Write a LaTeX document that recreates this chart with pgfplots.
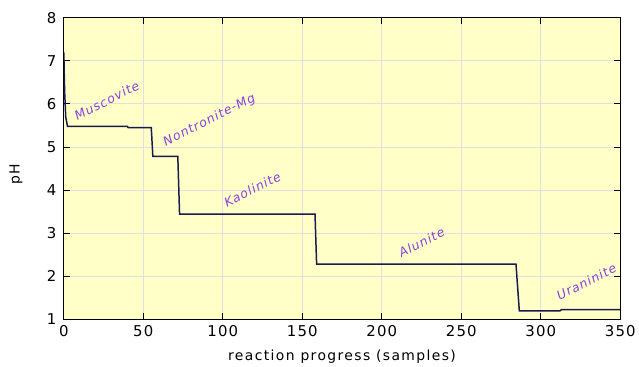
\documentclass[border=0pt]{standalone}
\usepackage{fontspec}
\setmainfont{DejaVu Sans}
\usepackage{pgfplots}
\pgfplotsset{compat=1.18}
\definecolor{bgy}{HTML}{FFFFC8}
\definecolor{lab}{HTML}{8A3FE0}
\definecolor{ln}{HTML}{1A1A50}
\begin{document}
\begin{tikzpicture}
\begin{axis}[
  scale only axis, width=558bp, height=302bp,
  xmin=0, xmax=350, ymin=1, ymax=8,
  xtick={0,50,...,350}, ytick={1,...,8},
  axis background/.style={fill=bgy},
  grid=major, major grid style={color=black!12, line width=1pt},
  tick align=inside, tick style={black, line width=1pt}, major tick length=6bp,
  axis line style={black, line width=1pt},
  tick label style={font=\fontsize{15}{17}\selectfont\addfontfeature{LetterSpace=8}},
  xticklabel style={yshift=-2.5bp},
  yticklabel style={xshift=-4bp},
  /pgf/number format/assume math mode=true,
  xlabel={reaction progress (samples)}, ylabel={pH},
  label style={font=\fontsize{14}{16}\selectfont\addfontfeature{LetterSpace=10}},
  xlabel style={at={(axis description cs:0.5,0)}, anchor=base, yshift=-41bp},
  ylabel style={at={(axis description cs:0,0.48)}, anchor=center, yshift=48bp},
]
\addplot[ln, line width=1.5pt] coordinates {
(0,7.2) (0.5,6.3) (1.2,5.7) (2.3,5.48) (40,5.48) (40.5,5.45) (55,5.45) (56,4.78) (71.7,4.78) (72.8,3.44)
(158,3.44) (159,2.28) (284.4,2.28) (286.5,1.19) (312,1.19) (313,1.22) (350,1.22)};
\begin{scope}[every node/.style={font=\fontsize{12.5}{14}\selectfont\itshape\addfontfeature{LetterSpace=8}, text=lab, rotate=27, inner sep=0pt}]
\node at (axis cs:27,6.08) {Muscovite};
\node at (axis cs:91.6,5.62) {Nontronite-Mg};
\node at (axis cs:118.6,4.01) {Kaolinite};
\node at (axis cs:225,2.78) {Alunite};
\node at (axis cs:328.7,1.87) {Uraninite};
\end{scope}
\end{axis}
\path ([xshift=-64bp,yshift=-44bp]current axis.south west) rectangle ([xshift=17bp,yshift=18bp]current axis.north east);
\end{tikzpicture}
\end{document}
